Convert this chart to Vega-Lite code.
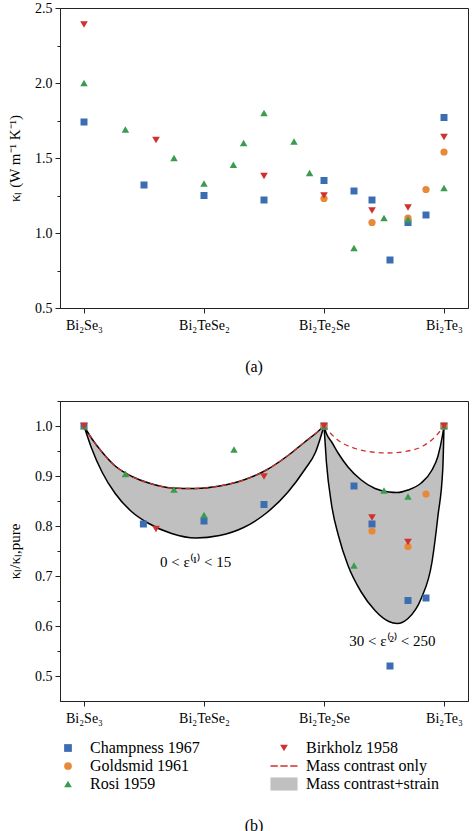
{
  "$schema": "https://vega.github.io/schema/vega-lite/v6.json",
  "padding": {"left": 7, "top": 0, "right": 0, "bottom": 0},
  "bounds": "flush",
  "spacing": 93,
  "resolve": {"scale": {"color": "independent", "shape": "independent", "size": "independent", "y": "independent"}},
  "config": {
    "font": "Liberation Serif",
    "view": {"stroke": "#222", "strokeWidth": 1},
    "axis": {"labelFont": "Liberation Serif", "titleFont": "Liberation Serif", "labelFontSize": 14, "titleFontSize": 15, "titleFontWeight": "normal", "domainColor": "#222", "tickColor": "#222", "labelColor": "#000", "titleColor": "#000", "grid": false, "domainWidth": 1, "tickWidth": 1},
    "axisX": {"tickSize": 5, "labelPadding": 5},
    "axisY": {"labelPadding": 3, "titlePadding": 12},
    "title": {"font": "Liberation Serif", "fontSize": 16, "fontWeight": "normal", "color": "#000"},
    "legend": {"labelFont": "Liberation Serif", "labelFontSize": 16, "labelColor": "#000"}
  },
  "datasets": {
    "a": [
      {"series": "Champness 1967", "x": 0, "y": 1.74},
      {"series": "Champness 1967", "x": 0.5, "y": 1.32},
      {"series": "Champness 1967", "x": 1.0, "y": 1.25},
      {"series": "Champness 1967", "x": 1.5, "y": 1.22},
      {"series": "Champness 1967", "x": 2.0, "y": 1.35},
      {"series": "Champness 1967", "x": 2.25, "y": 1.28},
      {"series": "Champness 1967", "x": 2.4, "y": 1.22},
      {"series": "Champness 1967", "x": 2.55, "y": 0.82},
      {"series": "Champness 1967", "x": 2.7, "y": 1.07},
      {"series": "Champness 1967", "x": 2.85, "y": 1.12},
      {"series": "Champness 1967", "x": 3.0, "y": 1.77},
      {"series": "Goldsmid 1961", "x": 2.0, "y": 1.23},
      {"series": "Goldsmid 1961", "x": 2.4, "y": 1.07},
      {"series": "Goldsmid 1961", "x": 2.7, "y": 1.10},
      {"series": "Goldsmid 1961", "x": 2.85, "y": 1.29},
      {"series": "Goldsmid 1961", "x": 3.0, "y": 1.54},
      {"series": "Rosi 1959", "x": 0, "y": 2.0},
      {"series": "Rosi 1959", "x": 0.345, "y": 1.69},
      {"series": "Rosi 1959", "x": 0.75, "y": 1.50},
      {"series": "Rosi 1959", "x": 1.0, "y": 1.33},
      {"series": "Rosi 1959", "x": 1.245, "y": 1.455},
      {"series": "Rosi 1959", "x": 1.33, "y": 1.60},
      {"series": "Rosi 1959", "x": 1.5, "y": 1.80},
      {"series": "Rosi 1959", "x": 1.75, "y": 1.61},
      {"series": "Rosi 1959", "x": 1.88, "y": 1.40},
      {"series": "Rosi 1959", "x": 2.25, "y": 0.90},
      {"series": "Rosi 1959", "x": 2.5, "y": 1.10},
      {"series": "Rosi 1959", "x": 2.7, "y": 1.09},
      {"series": "Rosi 1959", "x": 3.0, "y": 1.30},
      {"series": "Birkholz 1958", "x": 0, "y": 2.39},
      {"series": "Birkholz 1958", "x": 0.6, "y": 1.62},
      {"series": "Birkholz 1958", "x": 1.5, "y": 1.38},
      {"series": "Birkholz 1958", "x": 2.0, "y": 1.25},
      {"series": "Birkholz 1958", "x": 2.4, "y": 1.15},
      {"series": "Birkholz 1958", "x": 2.7, "y": 1.17},
      {"series": "Birkholz 1958", "x": 3.0, "y": 1.64}
    ],
    "b": [
      {"series": "Champness 1967", "x": 0, "y": 1.0},
      {"series": "Champness 1967", "x": 0.495, "y": 0.804},
      {"series": "Champness 1967", "x": 1.0, "y": 0.81},
      {"series": "Champness 1967", "x": 1.5, "y": 0.843},
      {"series": "Champness 1967", "x": 2.0, "y": 1.0},
      {"series": "Champness 1967", "x": 2.25, "y": 0.88},
      {"series": "Champness 1967", "x": 2.4, "y": 0.804},
      {"series": "Champness 1967", "x": 2.55, "y": 0.52},
      {"series": "Champness 1967", "x": 2.7, "y": 0.651},
      {"series": "Champness 1967", "x": 2.85, "y": 0.656},
      {"series": "Champness 1967", "x": 3.0, "y": 1.0},
      {"series": "Goldsmid 1961", "x": 2.0, "y": 1.0},
      {"series": "Goldsmid 1961", "x": 2.4, "y": 0.79},
      {"series": "Goldsmid 1961", "x": 2.7, "y": 0.759},
      {"series": "Goldsmid 1961", "x": 2.85, "y": 0.864},
      {"series": "Goldsmid 1961", "x": 3.0, "y": 1.0},
      {"series": "Rosi 1959", "x": 0, "y": 1.0},
      {"series": "Rosi 1959", "x": 0.345, "y": 0.904},
      {"series": "Rosi 1959", "x": 0.75, "y": 0.873},
      {"series": "Rosi 1959", "x": 1.0, "y": 0.822},
      {"series": "Rosi 1959", "x": 1.25, "y": 0.953},
      {"series": "Rosi 1959", "x": 2.0, "y": 1.0},
      {"series": "Rosi 1959", "x": 2.25, "y": 0.721},
      {"series": "Rosi 1959", "x": 2.5, "y": 0.871},
      {"series": "Rosi 1959", "x": 2.7, "y": 0.859},
      {"series": "Rosi 1959", "x": 3.0, "y": 1.0},
      {"series": "Birkholz 1958", "x": 0, "y": 1.0},
      {"series": "Birkholz 1958", "x": 0.6, "y": 0.794},
      {"series": "Birkholz 1958", "x": 1.5, "y": 0.899},
      {"series": "Birkholz 1958", "x": 2.0, "y": 1.0},
      {"series": "Birkholz 1958", "x": 2.4, "y": 0.817},
      {"series": "Birkholz 1958", "x": 2.7, "y": 0.768},
      {"series": "Birkholz 1958", "x": 3.0, "y": 1.0}
    ],
    "band": [
      {"seg": 1, "x": 0.0, "y": 1.0, "y2": 1.0},
      {"seg": 1, "x": 0.064, "y": 0.955, "y2": 0.975},
      {"seg": 1, "x": 0.15, "y": 0.908, "y2": 0.948},
      {"seg": 1, "x": 0.26, "y": 0.865, "y2": 0.92},
      {"seg": 1, "x": 0.4, "y": 0.828, "y2": 0.899},
      {"seg": 1, "x": 0.54, "y": 0.805, "y2": 0.886},
      {"seg": 1, "x": 0.73, "y": 0.785, "y2": 0.876},
      {"seg": 1, "x": 0.93, "y": 0.776, "y2": 0.875},
      {"seg": 1, "x": 1.13, "y": 0.781, "y2": 0.88},
      {"seg": 1, "x": 1.33, "y": 0.797, "y2": 0.892},
      {"seg": 1, "x": 1.52, "y": 0.826, "y2": 0.912},
      {"seg": 1, "x": 1.7, "y": 0.868, "y2": 0.941},
      {"seg": 1, "x": 1.84, "y": 0.913, "y2": 0.968},
      {"seg": 1, "x": 1.93, "y": 0.948, "y2": 0.985},
      {"seg": 1, "x": 2.0, "y": 1.0, "y2": 1.0},
      {"seg": 2, "x": 2.0, "y": 1.0, "y2": 1.0},
      {"seg": 2, "x": 2.02, "y": 0.928, "y2": 0.985},
      {"seg": 2, "x": 2.064, "y": 0.841, "y2": 0.968},
      {"seg": 2, "x": 2.12, "y": 0.781, "y2": 0.945},
      {"seg": 2, "x": 2.2, "y": 0.721, "y2": 0.918},
      {"seg": 2, "x": 2.31, "y": 0.668, "y2": 0.892},
      {"seg": 2, "x": 2.425, "y": 0.631, "y2": 0.875},
      {"seg": 2, "x": 2.54, "y": 0.609, "y2": 0.868},
      {"seg": 2, "x": 2.61, "y": 0.605, "y2": 0.867},
      {"seg": 2, "x": 2.7, "y": 0.615, "y2": 0.872},
      {"seg": 2, "x": 2.81, "y": 0.655, "y2": 0.886},
      {"seg": 2, "x": 2.9, "y": 0.728, "y2": 0.912},
      {"seg": 2, "x": 2.95, "y": 0.821, "y2": 0.94},
      {"seg": 2, "x": 2.99, "y": 0.915, "y2": 0.985},
      {"seg": 2, "x": 3.0, "y": 1.0, "y2": 1.0}
    ],
    "mass": [
      {"seg": 1, "x": 0.0, "y": 1.0},
      {"seg": 1, "x": 0.064, "y": 0.975},
      {"seg": 1, "x": 0.15, "y": 0.948},
      {"seg": 1, "x": 0.26, "y": 0.92},
      {"seg": 1, "x": 0.4, "y": 0.899},
      {"seg": 1, "x": 0.54, "y": 0.886},
      {"seg": 1, "x": 0.73, "y": 0.876},
      {"seg": 1, "x": 0.93, "y": 0.875},
      {"seg": 1, "x": 1.13, "y": 0.88},
      {"seg": 1, "x": 1.33, "y": 0.892},
      {"seg": 1, "x": 1.52, "y": 0.912},
      {"seg": 1, "x": 1.7, "y": 0.941},
      {"seg": 1, "x": 1.84, "y": 0.968},
      {"seg": 1, "x": 1.93, "y": 0.985},
      {"seg": 1, "x": 2.0, "y": 1.0},
      {"seg": 2, "x": 2.0, "y": 1.0},
      {"seg": 2, "x": 2.12, "y": 0.971},
      {"seg": 2, "x": 2.26, "y": 0.955},
      {"seg": 2, "x": 2.4, "y": 0.948},
      {"seg": 2, "x": 2.54, "y": 0.946},
      {"seg": 2, "x": 2.675, "y": 0.949},
      {"seg": 2, "x": 2.81, "y": 0.958},
      {"seg": 2, "x": 2.925, "y": 0.978},
      {"seg": 2, "x": 3.0, "y": 1.0}
    ],
    "notes": [
      {"x": 0.93, "y": 0.728, "label": "0 < ε⁽¹⁾ < 15"},
      {"x": 2.57, "y": 0.571, "label": "30 < ε⁽²⁾ < 250"}
    ]
  },
  "vconcat": [
    {
      "width": 408,
      "height": 300,
      "title": {"text": "(a)", "orient": "bottom", "offset": 27, "dx": -10},
      "data": {"name": "a"},
      "mark": {"type": "point", "filled": true, "opacity": 1, "strokeWidth": 0},
      "encoding": {
        "x": {"field": "x", "type": "quantitative", "scale": {"domain": [-0.2, 3.2], "nice": false, "zero": false},
              "axis": {"title": null, "values": [0, 1, 2, 3], "labelExpr": "['Bi₂Se₃','Bi₂TeSe₂','Bi₂Te₂Se','Bi₂Te₃'][round(datum.value)]"}},
        "y": {"field": "y", "type": "quantitative", "scale": {"domain": [0.5, 2.5], "nice": false, "zero": false},
              "axis": {"title": "κₗ (W m⁻¹ K⁻¹)", "values": [0.5, 0.75, 1.0, 1.25, 1.5, 1.75, 2.0, 2.25, 2.5],
                       "labelExpr": "datum.value % 0.5 === 0 ? format(datum.value, '.1f') : ''",
                       "tickSize": {"condition": {"test": "datum.value % 0.5 === 0", "value": 5}, "value": 3}}},
        "color": {"field": "series", "type": "nominal", "legend": null,
                  "scale": {"domain": ["Champness 1967", "Goldsmid 1961", "Rosi 1959", "Birkholz 1958"], "range": ["#3b6db3", "#e8893a", "#3a9b4f", "#d1312e"]}},
        "shape": {"field": "series", "type": "nominal", "legend": null,
                  "scale": {"domain": ["Champness 1967", "Goldsmid 1961", "Rosi 1959", "Birkholz 1958"], "range": ["square", "circle", "triangle-up", "triangle-down"]}},
        "size": {"field": "series", "type": "nominal", "legend": null,
                 "scale": {"domain": ["Champness 1967", "Goldsmid 1961", "Rosi 1959", "Birkholz 1958"], "range": [49, 59, 70, 70]}}
      }
    },
    {
      "width": 408,
      "height": 300,
      "title": {"text": "(b)", "orient": "bottom", "offset": 26, "dx": -10},
      "encoding": {
        "x": {"field": "x", "type": "quantitative", "scale": {"domain": [-0.2, 3.2], "nice": false, "zero": false},
              "axis": {"title": null, "values": [0, 1, 2, 3], "labelExpr": "['Bi₂Se₃','Bi₂TeSe₂','Bi₂Te₂Se','Bi₂Te₃'][round(datum.value)]"}},
        "y": {"field": "y", "type": "quantitative", "scale": {"domain": [0.45, 1.05], "nice": false, "zero": false},
              "axis": {"title": "κₗ/κₗ,pure", "values": [0.5, 0.55, 0.6, 0.65, 0.7, 0.75, 0.8, 0.85, 0.9, 0.95, 1.0, 1.05],
                       "labelExpr": "abs(datum.value * 10 - round(datum.value * 10)) < 0.001 ? format(datum.value, '.1f') : ''",
                       "tickSize": {"condition": {"test": "abs(datum.value * 10 - round(datum.value * 10)) < 0.001", "value": 5}, "value": 3}}}
      },
      "layer": [
        {
          "data": {"name": "band"},
          "mark": {"type": "area", "interpolate": "monotone", "fill": "#c0c0c0", "fillOpacity": 1, "stroke": "#000", "strokeWidth": 1.5},
          "encoding": {"y2": {"field": "y2"}, "detail": {"field": "seg", "type": "nominal"}}
        },
        {
          "data": {"name": "mass"},
          "mark": {"type": "line", "interpolate": "monotone", "color": "#d1312e", "strokeWidth": 1.3, "strokeDash": [5, 4]},
          "encoding": {"detail": {"field": "seg", "type": "nominal"}}
        },
        {
          "data": {"name": "b"},
          "mark": {"type": "point", "filled": true, "opacity": 1, "strokeWidth": 0},
          "encoding": {
            "color": {"field": "series", "type": "nominal",
                      "scale": {"domain": ["Champness 1967", "Birkholz 1958", "Goldsmid 1961", "Mass contrast only", "Rosi 1959", "Mass contrast+strain"],
                                "range": ["#3b6db3", "#d1312e", "#e8893a", "#d1312e", "#3a9b4f", "#c0c0c0"]},
                      "legend": {"title": null, "orient": "bottom", "columns": 2, "columnPadding": 70, "rowPadding": 2, "offset": 15,
                                 "symbolSize": 60, "symbolStrokeWidth": 0, "labelOffset": 14, "symbolOpacity": 1}},
            "shape": {"field": "series", "type": "nominal",
                      "scale": {"domain": ["Champness 1967", "Birkholz 1958", "Goldsmid 1961", "Mass contrast only", "Rosi 1959", "Mass contrast+strain"],
                                "range": ["square", "triangle-down", "circle", "M-3.5,-0.18H-1.6V0.18H-3.5Z M-0.95,-0.18H0.95V0.18H-0.95Z M1.6,-0.18H3.5V0.18H1.6Z", "triangle-up", "M-3.5,-1.7H3.5V1.7H-3.5Z"]},
                      "legend": {"title": null, "orient": "bottom", "columns": 2, "columnPadding": 70, "rowPadding": 2, "offset": 15,
                                 "symbolSize": 60, "symbolStrokeWidth": 0, "labelOffset": 14, "symbolOpacity": 1}},
            "size": {"field": "series", "type": "nominal", "legend": null,
                     "scale": {"domain": ["Champness 1967", "Goldsmid 1961", "Rosi 1959", "Birkholz 1958"], "range": [49, 59, 70, 70]}}
          }
        },
        {
          "data": {"name": "notes"},
          "mark": {"type": "text", "font": "Liberation Serif", "fontSize": 15, "align": "center", "baseline": "middle", "color": "#000"},
          "encoding": {"text": {"field": "label"}}
        }
      ]
    }
  ]
}
